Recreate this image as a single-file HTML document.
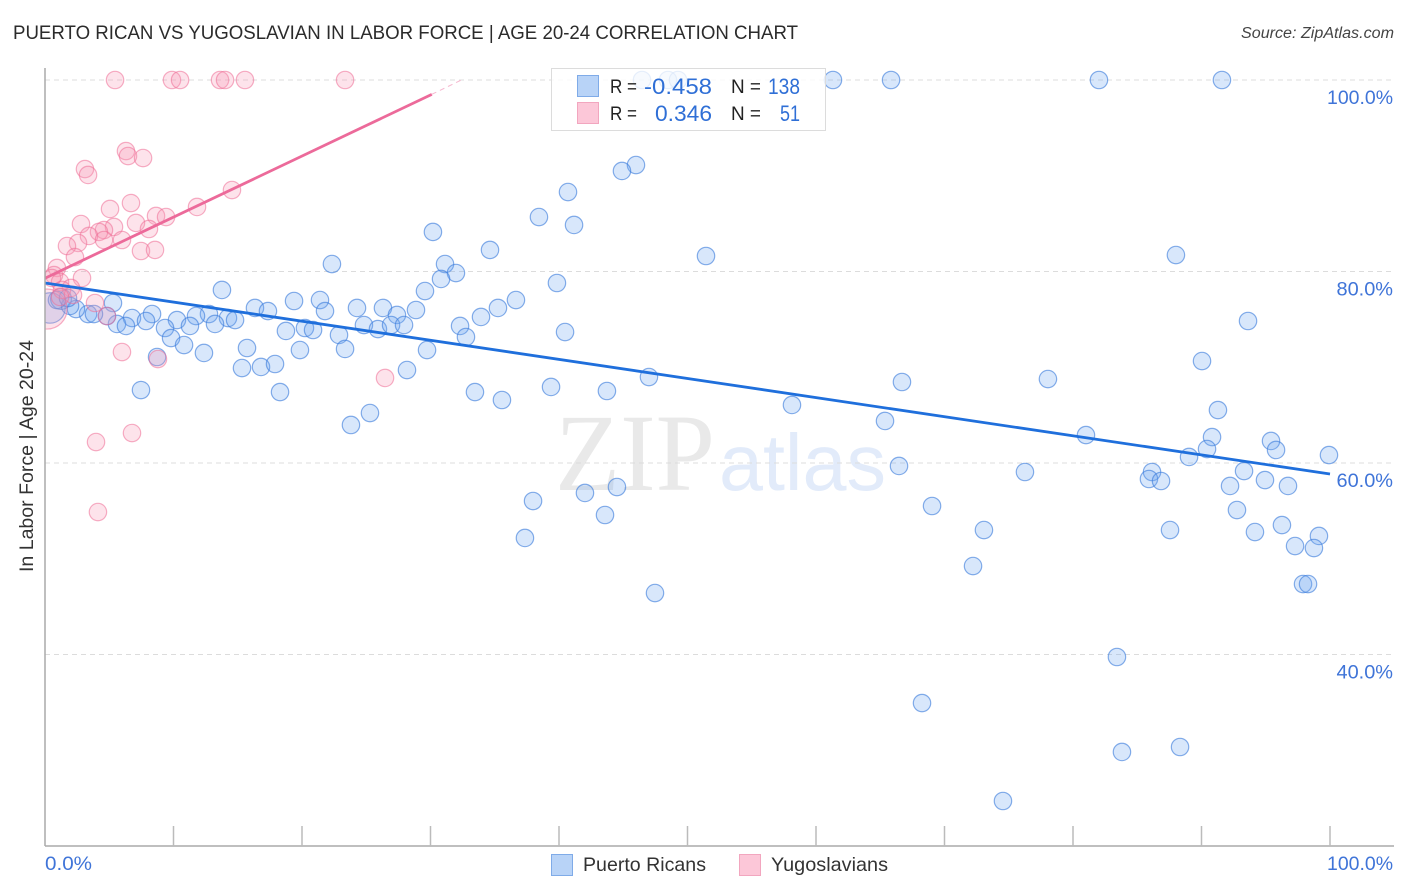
<!DOCTYPE html>
<html lang="en">
<head>
<meta charset="utf-8">
<title>Puerto Rican vs Yugoslavian in Labor Force | Age 20-24 Correlation Chart</title>
<style>
html,body{margin:0;padding:0;background:#fff;width:1406px;height:892px;overflow:hidden}
svg{display:block;font-family:"Liberation Sans",sans-serif}
</style>
</head>
<body>
<svg id="chart" width="1406" height="892" viewBox="0 0 1406 892" xmlns="http://www.w3.org/2000/svg">
  <defs><clipPath id="plot-clip"><rect x="45" y="60" width="1360" height="786"/></clipPath></defs>
  <text x="13" y="39" font-size="19.5" fill="#2b2b2b" textLength="785" lengthAdjust="spacingAndGlyphs">PUERTO RICAN VS YUGOSLAVIAN IN LABOR FORCE | AGE 20-24 CORRELATION CHART</text>
  <text x="1394" y="38" font-size="15.5" font-style="italic" fill="#444" text-anchor="end" textLength="153" lengthAdjust="spacingAndGlyphs">Source: ZipAtlas.com</text>

  <g>
    <text x="555" y="490" font-family="'Liberation Serif',serif" font-size="110" fill="#e9e9e9" textLength="160" lengthAdjust="spacingAndGlyphs">ZIP</text>
    <text x="719" y="490" font-size="80" fill="#e2ebfa" textLength="167" lengthAdjust="spacingAndGlyphs">atlas</text>
  </g>

  <g id="grid"></g>
  <g id="blue-points" clip-path="url(#plot-clip)"></g>
  <g id="pink-points" clip-path="url(#plot-clip)"></g>
  <g id="trends"></g>
  <g id="axes"></g>

  <text transform="translate(33,456) rotate(-90)" font-size="19" fill="#333" text-anchor="middle" textLength="232" lengthAdjust="spacingAndGlyphs">In Labor Force | Age 20-24</text>

  <g>
    <rect x="551.5" y="68.5" width="274" height="62" fill="#fff" fill-opacity="0.8" stroke="#dcdcdc" stroke-width="1"/>
    <rect x="577.5" y="75.5" width="21" height="21" fill="#b8d3f7" stroke="#7fabe8"/>
    <rect x="577.5" y="102.5" width="21" height="21" fill="#fcc7d8" stroke="#f2a6bf"/>
    <g font-size="19" fill="#222">
      <text x="610" y="93" textLength="27" lengthAdjust="spacingAndGlyphs">R =</text>
      <text x="731" y="93" textLength="30" lengthAdjust="spacingAndGlyphs">N =</text>
      <text x="610" y="120" textLength="27" lengthAdjust="spacingAndGlyphs">R =</text>
      <text x="731" y="120" textLength="30" lengthAdjust="spacingAndGlyphs">N =</text>
    </g>
    <g font-size="22" fill="#2f6fd6">
      <text x="644" y="94" textLength="68" lengthAdjust="spacingAndGlyphs">-0.458</text>
      <text x="768" y="94" textLength="32" lengthAdjust="spacingAndGlyphs">138</text>
      <text x="655" y="121" textLength="57" lengthAdjust="spacingAndGlyphs">0.346</text>
      <text x="780" y="121" textLength="20" lengthAdjust="spacingAndGlyphs">51</text>
    </g>
  </g>

  <g>
    <rect x="551.5" y="854.5" width="21" height="21" fill="#b8d3f7" stroke="#7fabe8"/>
    <text x="583" y="871" font-size="19.5" fill="#333" textLength="123" lengthAdjust="spacingAndGlyphs">Puerto Ricans</text>
    <rect x="739.5" y="854.5" width="21" height="21" fill="#fcc7d8" stroke="#f2a6bf"/>
    <text x="771" y="871" font-size="19.5" fill="#333" textLength="117" lengthAdjust="spacingAndGlyphs">Yugoslavians</text>
  </g>
</svg>
<script>
const blueX = [0.39,1.25,46.46,48.48,49.26,61.32,65.84,82.02,91.59,45.99,44.90,40.70,38.44,41.17,30.19,34.63,51.44,88.01,22.33,31.13,31.98,30.82,29.57,13.77,39.84,19.38,21.40,36.65,35.25,5.29,16.34,17.35,24.28,26.30,28.87,27.39,21.79,33.93,8.33,6.77,12.76,10.27,11.75,14.24,14.79,7.86,5.60,6.30,4.82,3.35,3.81,2.41,1.95,0.93,1.79,9.34,11.28,13.23,18.75,20.23,20.86,24.82,25.91,26.93,27.94,32.30,32.76,40.47,22.88,9.81,10.82,15.72,23.35,19.84,29.73,12.37,8.72,15.33,16.81,17.90,28.17,47.00,39.38,43.73,33.46,35.56,7.47,18.29,25.29,23.81,58.13,65.37,66.69,78.05,90.04,93.62,91.28,81.01,90.82,90.43,89.03,95.41,95.80,99.92,93.31,76.26,66.46,86.15,85.91,86.85,94.94,92.22,96.73,44.51,42.02,37.98,43.58,69.03,92.76,96.26,94.16,99.14,97.28,98.75,73.07,87.55,37.35,72.22,47.47,97.90,98.29,83.42,68.25,88.33,83.81,74.55];
const blueY = [76.19,77.13,100,100,100,100,100,100,100,91.12,90.50,88.30,85.69,84.86,84.13,82.25,81.62,81.72,80.78,80.78,79.84,79.22,77.96,78.07,78.80,76.92,77.02,77.02,76.19,76.71,76.19,75.87,76.19,76.19,75.98,75.46,75.87,75.25,75.56,75.14,75.56,74.93,75.35,75.14,74.93,74.83,74.52,74.31,75.35,75.56,75.56,76.08,76.40,77.02,77.23,74.10,74.31,74.52,73.79,74.10,73.89,74.41,73.99,74.41,74.41,74.31,73.16,73.68,73.37,73.05,72.32,72.01,71.91,71.80,71.80,71.49,71.07,69.92,70.03,70.34,69.71,68.98,67.94,67.52,67.41,66.58,67.62,67.41,65.22,63.97,66.06,64.39,68.46,68.77,70.65,74.83,65.53,62.92,62.71,61.46,60.63,62.30,61.36,60.83,59.16,59.06,59.69,59.06,58.33,58.12,58.22,57.60,57.60,57.49,56.87,56.03,54.57,55.51,55.09,53.52,52.79,52.38,51.33,51.12,53.00,53.00,52.17,49.24,46.42,47.36,47.36,39.74,34.93,30.34,29.82,24.70];
const blueWeight = [1.75,1.2];
const pinkX = [0.16,5.45,9.88,10.51,13.62,14.01,15.56,23.35,6.30,6.46,7.63,3.11,3.35,6.69,5.06,2.80,8.64,9.42,11.83,14.55,7.08,8.09,5.37,4.59,4.20,3.42,4.59,5.99,2.57,1.71,2.33,7.47,8.56,0.93,0.70,2.88,0.54,1.17,2.02,1.32,3.89,2.18,1.17,4.82,5.99,8.79,3.97,6.77,4.12,26.46];
const pinkY = [76.08,100,100,100,100,100,100,100,92.58,92.06,91.85,90.70,90.08,87.15,86.53,84.96,85.80,85.69,86.74,88.51,85.07,84.44,84.65,84.33,84.13,83.71,83.29,83.29,82.98,82.66,81.51,82.14,82.25,80.37,79.63,79.32,79.32,78.90,78.28,78.07,76.71,77.55,77.34,75.35,71.59,70.86,62.19,63.13,54.88,68.88];
const pinkWeight = [2.3];
const blueTrendX = [0,100];
const blueTrendY = [78.8,58.85];
const pinkTrendX = [0,30.1];
const pinkTrendY = [79.3,98.5];
const pinkFadeX = [30.1,32.4];
const pinkFadeY = [98.5,100];
const yTickValues = [100,80,60,40];
const yTickLabels = ['100.0%','80.0%','60.0%','40.0%'];
const xTickValues = [10,20,30,40,50,60,70,80,90,100];
const xEndValues = [0,100];
const xEndLabels = ['0.0%','100.0%'];

const NS = 'http://www.w3.org/2000/svg';
const xScale = v => 45 + v * 12.85;
const yScale = v => 80 + (100 - v) * 9.575;
const baseRadius = 8.7;
const AXIS_BOTTOM = 846;
const labelWidth = s => 9.5 * s.length + 9;

function make(parent, tag, attrs, text) {
  const el = document.createElementNS(NS, tag);
  for (const k in attrs) el.setAttribute(k, attrs[k]);
  if (text !== undefined) el.textContent = text;
  parent.appendChild(el);
  return el;
}

const grid = document.getElementById('grid');
yTickValues.forEach(v => {
  const line = make(grid, 'line', {x1: 45, x2: 1394, y1: yScale(v), y2: yScale(v), stroke: '#dcdcdc', 'stroke-width': 1, 'stroke-dasharray': '5 4'});
  
  
});

function drawPoints(groupId, xs, ys, weights, fill, stroke, name) {
  const g = document.getElementById(groupId);
  xs.forEach((x, i) => {
    const w = weights[i] || 1;
    const c = make(g, 'circle', {cx: xScale(x), cy: yScale(ys[i]), r: baseRadius * w, fill: fill, stroke: stroke, 'stroke-width': 1.2});
    
    
  });
}
drawPoints('blue-points', blueX, blueY, blueWeight, 'rgba(110,165,240,0.27)', 'rgba(60,125,220,0.62)', 'puerto-rican-point');
drawPoints('pink-points', pinkX, pinkY, pinkWeight, 'rgba(248,150,180,0.27)', 'rgba(238,110,150,0.55)', 'yugoslavian-point');

const trends = document.getElementById('trends');
const blueLine = make(trends, 'line', {x1: xScale(blueTrendX[0]), y1: yScale(blueTrendY[0]), x2: xScale(blueTrendX[1]), y2: yScale(blueTrendY[1]), stroke: '#1f6fdc', 'stroke-width': 2.8});


const pinkLine = make(trends, 'line', {x1: xScale(pinkTrendX[0]), y1: yScale(pinkTrendY[0]), x2: xScale(pinkTrendX[1]), y2: yScale(pinkTrendY[1]), stroke: '#ec6a9a', 'stroke-width': 2.8});


const pinkFade = make(trends, 'line', {x1: xScale(pinkFadeX[0]), y1: yScale(pinkFadeY[0]), x2: xScale(pinkFadeX[1]), y2: yScale(pinkFadeY[1]), stroke: '#f6b8cf', 'stroke-width': 1, 'stroke-dasharray': '5 4'});



const axes = document.getElementById('axes');
const yAxisLine = make(axes, 'line', {x1: 45, x2: 45, y1: 68, y2: AXIS_BOTTOM, stroke: '#aaa', 'stroke-width': 1.5});


const xAxisLine = make(axes, 'line', {x1: 45, x2: 1394, y1: AXIS_BOTTOM, y2: AXIS_BOTTOM, stroke: '#aaa', 'stroke-width': 1.5});


xTickValues.forEach(v => {
  const t = make(axes, 'line', {x1: xScale(v), x2: xScale(v), y1: 826, y2: AXIS_BOTTOM, stroke: '#bbb', 'stroke-width': 1.5});
  
  
});
yTickValues.forEach((v, i) => {
  const w = labelWidth(yTickLabels[i]);
  const t = make(axes, 'text', {x: 1393 - w, y: yScale(v) + 24, 'font-size': 19.5, fill: '#3f74d8', textLength: w, lengthAdjust: 'spacingAndGlyphs'}, yTickLabels[i]);
  
  
});
xEndValues.forEach((v, i) => {
  const w = labelWidth(xEndLabels[i]);
  const t = make(axes, 'text', {x: i === 0 ? xScale(v) : 1393 - w, y: 870, 'font-size': 19.5, fill: '#3f74d8', textLength: w, lengthAdjust: 'spacingAndGlyphs'}, xEndLabels[i]);
  
  
});
</script>
</body>
</html>
